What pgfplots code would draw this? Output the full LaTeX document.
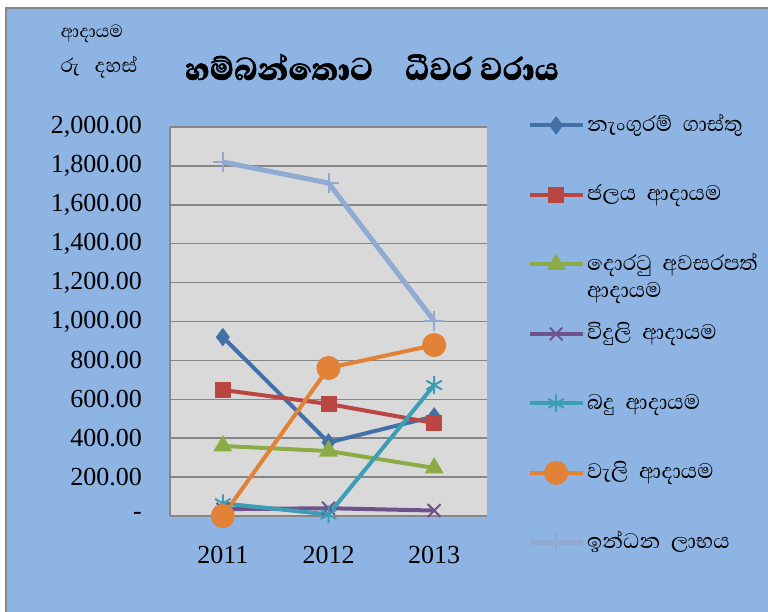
\documentclass[border=0pt]{standalone}
\usepackage{pgfplots}
\pgfplotsset{compat=1.18}
\usepackage{fontspec}
\setmainfont{Liberation Serif}
\newfontfamily\sinf[Script=Sinhala]{Abhaya Libre}
\newfontfamily\sinfb[Script=Sinhala,BoldFont={* ExtraBold},BoldFeatures={FakeBold=1.5}]{Abhaya Libre}
\definecolor{bgc}{RGB}{142,180,227}
\definecolor{plotbg}{RGB}{217,217,217}
\definecolor{gridc}{RGB}{134,134,134}
\definecolor{s1}{RGB}{65,113,167}
\definecolor{s2}{RGB}{185,70,65}
\definecolor{s3}{RGB}{140,170,70}
\definecolor{s4}{RGB}{110,82,140}
\definecolor{s5}{RGB}{60,158,180}
\definecolor{s6}{RGB}{225,130,55}
\definecolor{s7}{RGB}{145,170,210}
\newcommand\lt[1]{\smash{\raisebox{1pt}{#1}}\rule[-15pt]{0pt}{30pt}}
\begin{document}
\begin{tikzpicture}[x=1pt,y=1pt]
\useasboundingbox (0,0) rectangle (768,612);
\fill[white] (0,0) rectangle (768,612);
\filldraw[fill=bgc,draw=gridc,line width=1.5pt] (6,-5) rectangle (775,604);
\node[font=\sinf\fontsize{22.5}{27}\selectfont] at (92,578) {ආදායම};
\node[font=\sinf\fontsize{25}{30}\selectfont] at (99,545) {රු\hspace{0.6em}දහස්};
\node[font=\sinfb\bfseries\fontsize{40}{46}\selectfont] at (372,545) {හම්බන්තොට\hspace{0.8em}ධීවර වරාය};
\begin{axis}[
  at={(170pt,96pt)}, anchor=south west,
  scale only axis, width=317pt, height=389pt,
  xmin=0.5, xmax=3.5, ymin=0, ymax=2000,
  xtick={1,2,3}, xticklabels={2011,2012,2013},
  ytick={0,200,...,2000},
  yticklabels={{-\hspace{18pt}},{200.00},{400.00},{600.00},{800.00},{1,000.00},{1,200.00},{1,400.00},{1,600.00},{1,800.00},{2,000.00}},
  ymajorgrids, grid style={draw=gridc, line width=1.5pt},
  axis x line*=bottom, axis y line*=left,
  axis line style={-, draw=gridc, line width=1.5pt},
  major tick length=0pt,
  tick label style={font=\fontsize{26}{31}\selectfont},
  yticklabel style={inner sep=0pt, xshift=-28pt},
  xticklabel style={inner sep=0pt, yshift=-30pt},
  axis background/.style={fill=plotbg},
  clip=false,
  legend image code/.code={\draw[mark repeat=2,mark phase=2,#1] plot coordinates {(0pt,0pt) (26.5pt,0pt) (53pt,0pt)};},
  legend cell align=left,
  legend style={at={(1.126,1.031)}, anchor=north west, draw=none, fill=none, inner sep=0pt,
    nodes={inner sep=2pt}, row sep=49pt, font=\sinf\fontsize{27}{30}\selectfont},
]
\addplot[s1, line width=4pt, mark=diamond*, mark size=6pt, mark options={solid}] coordinates {(1,920) (2,378) (3,512)};
\addlegendentry{\lt{නැංගුරම්\hspace{0.4em}ගාස්තු}}
\addplot[s2, line width=4pt, mark=square*, mark size=6pt, mark options={solid}] coordinates {(1,648) (2,576) (3,478)};
\addlegendentry{\lt{ජලය\hspace{0.4em}ආදායම}}
\addplot[s3, line width=4pt, mark=triangle*, mark size=7pt, mark options={solid}] coordinates {(1,360) (2,334) (3,247)};
\addlegendentry{\lt{\begin{tabular}[t]{@{}l@{}}දොරටු\hspace{0.4em}අවසරපත්\\[-3pt]ආදායම\end{tabular}}}
\addplot[s4, line width=4pt, mark=x, mark size=9pt, mark options={solid, line width=2pt}] coordinates {(1,35) (2,40) (3,28)};
\addlegendentry{\lt{විදුලි\hspace{0.4em}ආදායම}}
\addplot[s5, line width=4pt, mark=asterisk, mark size=9pt, mark options={solid, line width=2pt}] coordinates {(1,65) (2,8) (3,673)};
\addlegendentry{\lt{බදු\hspace{0.4em}ආදායම}}
\addplot[s6, line width=4pt, mark=*, mark size=10pt, mark options={solid}] coordinates {(1,0) (2,761) (3,879)};
\addlegendentry{\lt{වැලි\hspace{0.4em}ආදායම}}
\addplot[s7, line width=5pt, mark=+, mark size=10pt, mark options={solid, line width=2pt}] coordinates {(1,1820) (2,1712) (3,1003)};
\addlegendentry{\lt{ඉන්ධන\hspace{0.4em}ලාභය}}
\end{axis}
\end{tikzpicture}
\end{document}
